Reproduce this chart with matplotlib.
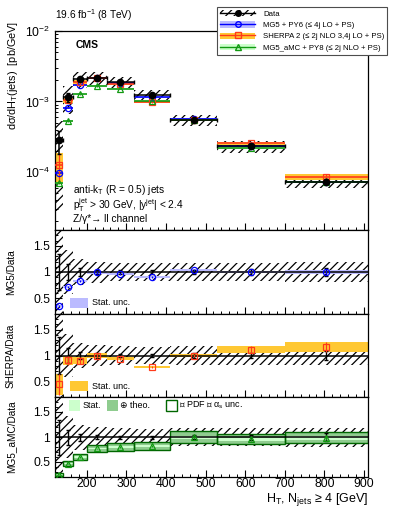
import numpy as np
import matplotlib
matplotlib.use('Agg')
import matplotlib.pyplot as plt
from matplotlib.patches import Rectangle, Patch
from matplotlib.lines import Line2D
from matplotlib.ticker import MultipleLocator, FixedLocator, FixedFormatter

plt.rcParams['font.family'] = ['Liberation Sans', 'DejaVu Sans']
plt.rcParams['mathtext.fontset'] = 'custom'
plt.rcParams['mathtext.rm'] = 'Liberation Sans'
plt.rcParams['mathtext.it'] = 'Liberation Sans:italic'
plt.rcParams['mathtext.default'] = 'regular'
plt.rcParams['hatch.linewidth'] = 0.9

# HT bins (GeV)
edges = np.array([120, 140, 165, 200, 250, 320, 410, 530, 700, 910])

# measured cross section and relative uncertainties
data = np.array([2.8e-4, 1.15e-3, 2.1e-3, 2.15e-3, 1.9e-3, 1.25e-3, 5.5e-4, 2.3e-4, 7.3e-5])
data_stat = np.array([0.35, 0.15, 0.07, 0.04, 0.03, 0.03, 0.04, 0.05, 0.08])
data_tot = np.array([0.9, 0.42, 0.25, 0.2, 0.18, 0.17, 0.18, 0.18, 0.19])

# predictions
mg5 = np.array([0.98e-4, 8.2e-4, 1.74e-3, 2.13e-3, 1.82e-3, 1.14e-3, 5.7e-4, 2.3e-4, 7.3e-5])
mg5_stat = np.array([0.06, 0.03, 0.02, 0.02, 0.02, 0.02, 0.02, 0.02, 0.03])
sherpa = np.array([1.26e-4, 1.04e-3, 1.89e-3, 2.15e-3, 1.79e-3, 9.75e-4, 5.5e-4, 2.55e-4, 8.5e-5])
sherpa_stat = np.array([0.45, 0.09, 0.08, 0.04, 0.04, 0.03, 0.03, 0.06, 0.09])
amc = np.array([7.0e-5, 5.3e-4, 1.26e-3, 1.66e-3, 1.52e-3, 1.03e-3, 5.5e-4, 2.2e-4, 7.2e-5])
amc_stat = np.array([0.04, 0.02, 0.02, 0.02, 0.02, 0.02, 0.03, 0.03, 0.04])
amc_theo = np.array([0.12, 0.11, 0.1, 0.1, 0.1, 0.1, 0.12, 0.1, 0.11])

labels = ['Data', 'MG5 + PY6 (≤ 4j LO + PS)', 'SHERPA 2 (≤ 2j NLO 3,4j LO + PS)',
          'MG5_aMC + PY8 (≤ 2j NLO + PS)']

c_mg5, c_mg5b = '#0000ff', '#bbbbff'
c_sh, c_shb = '#ff3a1a', '#ffc833'
c_amc, c_amcb = '#119911', '#ccffcc'
c_theo, c_pdf = '#8fcc8f', '#006600'
HATCH = '////'

lo_e = edges[:-1]
hi_e = edges[1:]
width = np.diff(edges)
centers = (lo_e + hi_e) / 2

W, H = 399, 516
fig = plt.figure(figsize=(W / 100, H / 100), dpi=100)
L, R = 55 / W, 368 / W
def frac(y):
    return 1 - y / H
ax0 = fig.add_axes([L, frac(230), R - L, frac(31) - frac(230)])
ax1 = fig.add_axes([L, frac(314), R - L, frac(230) - frac(314)])
ax2 = fig.add_axes([L, frac(397), R - L, frac(314) - frac(397)])
ax3 = fig.add_axes([L, frac(477), R - L, frac(397) - frac(477)])


def band(ax, lo, hi, color, **kw):
    ax.bar(lo_e, hi - lo, width=width, bottom=lo, align='edge', color=color, lw=0, **kw)


def hatch(ax, lo, hi):
    ax.bar(lo_e, hi - lo, width=width, bottom=lo, align='edge', facecolor='none',
           edgecolor='k', hatch=HATCH, lw=0, zorder=1)


# main panel
ax = ax0
hatch(ax, data * (1 - data_tot), data * (1 + data_tot))
for val, st, c, cb, m in [(mg5, mg5_stat, c_mg5, c_mg5b, 'o'),
                          (sherpa, sherpa_stat, c_sh, c_shb, 's'),
                          (amc, amc_stat, c_amc, c_amcb, '^')]:
    band(ax, val * (1 - st), val * (1 + st), cb, zorder=2)
    ax.hlines(val, lo_e, hi_e, colors=c, lw=1.2, zorder=3)
    ax.errorbar(centers, val, yerr=val * st, fmt=m, ms=4.5, mfc='none', mec=c, color=c,
                mew=0.9, elinewidth=0.9, capsize=0, zorder=4)
ax.errorbar(centers, data, xerr=width / 2, yerr=data * data_stat, fmt='o', color='k',
            ms=4.5, elinewidth=1.1, capsize=1.5, zorder=5)
ax.set_yscale('log')
ax.set_ylim(1.5e-5, 1e-2)
fig.text(13 / W, frac(21), 'dσ/dH$_T$(jets)  [pb/GeV]', fontsize=7.8, rotation=90,
         ha='center', va='top')
ax.text(0.065, 0.955, 'CMS', transform=ax.transAxes, fontsize=7.5, fontweight='bold', va='top')
ax.text(0.058, 0.2, 'anti-k$_T$ (R = 0.5) jets', transform=ax.transAxes, fontsize=7.3, va='center')
ax.text(0.058, 0.125, 'p$_T^{jet}$ > 30 GeV, |y$^{jet}$| < 2.4', transform=ax.transAxes,
        fontsize=7.3, va='center')
ax.text(0.058, 0.055, 'Z/γ*→ ll channel', transform=ax.transAxes, fontsize=7.3, va='center')
fig.text(L, frac(23), '19.6 fb$^{-1}$ (8 TeV)', fontsize=7.3, va='bottom')

# ratio panels
ratio_info = [
    (ax1, mg5, mg5_stat, c_mg5, c_mg5b, 'o', 'MG5/Data'),
    (ax2, sherpa, sherpa_stat, c_sh, c_shb, 's', 'SHERPA/Data'),
    (ax3, amc, amc_stat, c_amc, c_amcb, '^', 'MG5_aMC/Data'),
]
for ax, val, st, c, cb, m, lab in ratio_info:
    r = val / data
    hatch(ax, 1 - data_tot, 1 + data_tot)
    if ax is ax3:
        band(ax, r * (1 - amc_theo), r * (1 + amc_theo), c_theo, zorder=2)
        ax.bar(lo_e, 2 * r * amc_theo, width=width, bottom=r * (1 - amc_theo), align='edge',
               facecolor='none', edgecolor=c_pdf, lw=1.0, zorder=3)
        band(ax, r * (1 - st), r * (1 + st), c_amcb, zorder=2.5)
    else:
        band(ax, r * (1 - st), r * (1 + st), cb, zorder=2)
    ax.axhline(1, color='k', lw=1.1, zorder=3)
    ax.errorbar(centers, np.ones(len(data)), yerr=data_stat, fmt='none', ecolor='k',
                elinewidth=1.0, capsize=1.5, zorder=4)
    ax.errorbar(centers, r, yerr=r * st, fmt=m, ms=4.5, mfc='none', mec=c, color=c,
                mew=0.9, elinewidth=0.9, capsize=0, zorder=5)
    ax.set_ylim(0.2, 1.8)
    ax.yaxis.set_major_locator(FixedLocator([0.5, 1, 1.5]))
    ax.yaxis.set_major_formatter(FixedFormatter(['0.5', '1', '1.5']))
    ax.yaxis.set_minor_locator(MultipleLocator(0.1))
    ax.set_ylabel(lab, fontsize=7.2)
    ax.yaxis.set_label_coords(-0.125, 0.5)

# in-panel legends
for ax, cb in [(ax1, c_mg5b), (ax2, c_shb)]:
    ax.add_patch(Rectangle((0.048, 0.07), 0.057, 0.125, transform=ax.transAxes,
                           facecolor=cb, lw=0, zorder=6))
    ax.text(0.118, 0.132, 'Stat. unc.', transform=ax.transAxes, fontsize=6.5, va='center')
for x0, fc, ec, txt in [(0.045, c_amcb, 'none', 'Stat.'),
                        (0.166, c_theo, 'none', '⊕ theo.'),
                        (0.355, 'white', c_pdf, '⊕ PDF ⊕ α$_s$ unc.')]:
    ax3.add_patch(Rectangle((x0, 0.83), 0.035, 0.13, transform=ax3.transAxes,
                            facecolor=fc, edgecolor=ec, lw=1.0, zorder=6))
    ax3.text(x0 + 0.042, 0.895, txt, transform=ax3.transAxes, fontsize=6.5, va='center')

for ax in [ax0, ax1, ax2, ax3]:
    ax.set_xlim(edges[0], edges[-1])
    ax.xaxis.set_major_locator(MultipleLocator(100))
    ax.xaxis.set_minor_locator(MultipleLocator(20))
    ax.tick_params(which='both', direction='in', top=False, right=False, labelsize=8.7)
    ax.tick_params(which='major', length=5, width=0.8)
    ax.tick_params(which='minor', length=2.5, width=0.7)
    ax.tick_params(axis='x', pad=1)
    for s in ax.spines.values():
        s.set_linewidth(0.9)
    if ax is not ax3:
        ax.tick_params(labelbottom=False)

fig.text(R, frac(491), 'H$_T$, N$_{jets}$ ≥ 4 [GeV]', fontsize=9, ha='right', va='top')

# main legend
handles = [
    (Patch(facecolor='none', edgecolor='k', hatch=HATCH, lw=0),
     Line2D([], [], color='k', marker='o', ms=4, lw=1)),
    (Patch(facecolor=c_mg5b, lw=0), Line2D([], [], color=c_mg5, marker='o', mfc='none', ms=4, lw=1)),
    (Patch(facecolor=c_shb, lw=0), Line2D([], [], color=c_sh, marker='s', mfc='none', ms=4, lw=1)),
    (Patch(facecolor=c_amcb, lw=0), Line2D([], [], color=c_amc, marker='^', mfc='none', ms=4, lw=1)),
]
leg = fig.legend(handles, labels, loc='upper right', bbox_to_anchor=(387 / W, frac(7)),
                 fontsize=5.6, frameon=True, fancybox=False, edgecolor='0.3', framealpha=1,
                 borderpad=0.35, handlelength=4.5, handleheight=0.9, labelspacing=0.45,
                 handletextpad=1.0, borderaxespad=0)
leg.get_frame().set_linewidth(0.8)

plt.savefig('out.png', dpi=100)
